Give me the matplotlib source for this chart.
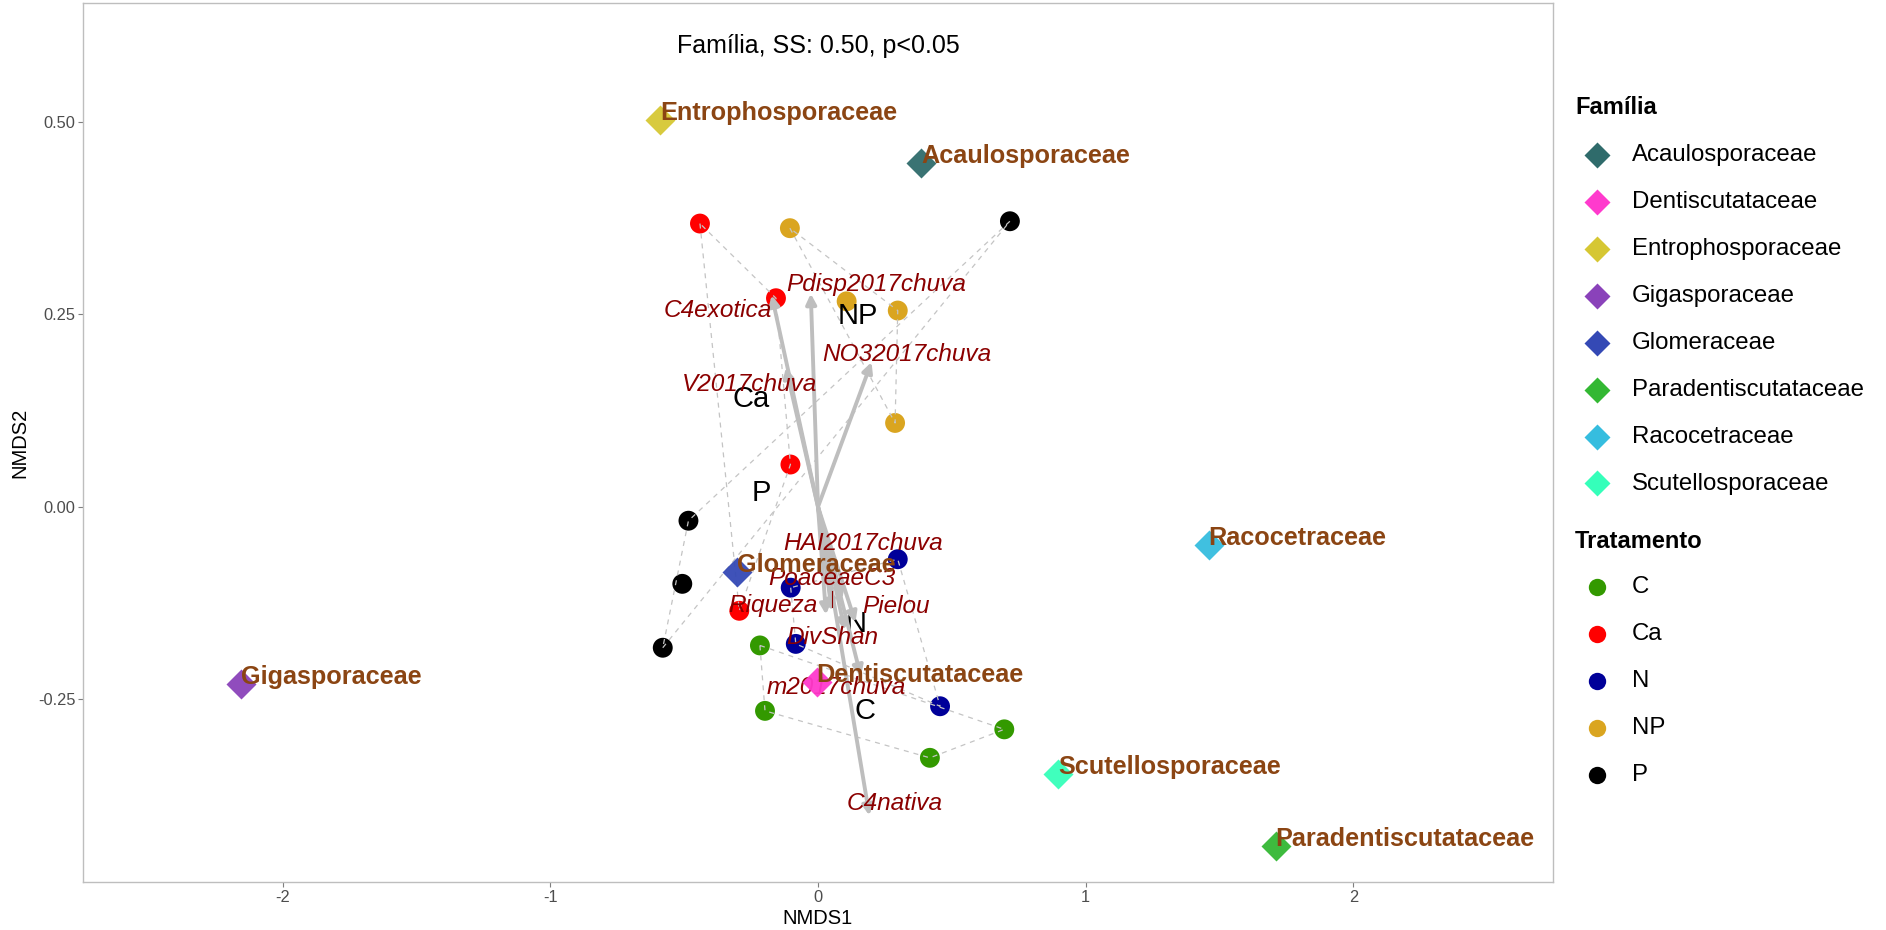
import numpy as np
import matplotlib
matplotlib.use("Agg")
import matplotlib.pyplot as plt
from matplotlib.lines import Line2D

plt.rcParams["font.family"] = ["Liberation Sans", "DejaVu Sans"]

# ---- site scores (NMDS1, NMDS2) by treatment ----
treatments = ["C", "Ca", "N", "NP", "P"]
treat_colors = ["#339900", "#FF0000", "#000099", "#DAA520", "#000000"]
C_x = [-0.217, -0.198, 0.418, 0.696]
C_y = [-0.180, -0.265, -0.326, -0.289]
Ca_x = [-0.441, -0.157, -0.103, -0.294]
Ca_y = [0.368, 0.271, 0.055, -0.135]
N_x = [0.298, -0.102, -0.083, 0.456]
N_y = [-0.068, -0.105, -0.178, -0.259]
NP_x = [-0.105, 0.107, 0.298, 0.288]
NP_y = [0.362, 0.267, 0.255, 0.109]
P_x = [0.717, -0.484, -0.507, -0.580]
P_y = [0.371, -0.018, -0.100, -0.183]

# ---- family scores ----
families = ["Acaulosporaceae", "Dentiscutataceae", "Entrophosporaceae",
            "Gigasporaceae", "Glomeraceae", "Paradentiscutataceae",
            "Racocetraceae", "Scutellosporaceae"]
family_colors = ["#2F6B6B", "#FF3ACD", "#D6C733", "#8A42BA", "#3449B5",
                 "#33B833", "#35BDDF", "#35FFBA"]
family_x = [0.386, -0.005, -0.589, -2.157, -0.304, 1.710, 1.459, 0.898]
family_y = [0.447, -0.228, 0.503, -0.230, -0.085, -0.441, -0.050, -0.347]

# ---- fitted environmental vectors ----
vectors = ["C4exotica", "Pdisp2017chuva", "V2017chuva", "NO32017chuva",
           "HAI2017chuva", "PoaceaeC3", "Riqueza", "Pielou", "DivShan",
           "m2017chuva", "C4nativa"]
vec_x = [-0.173, -0.027, -0.120, 0.200, 0.090, 0.051, 0.030, 0.140, 0.100, 0.160, 0.192]
vec_y = [0.275, 0.277, 0.181, 0.188, -0.120, -0.135, -0.140, -0.150, -0.160, -0.220, -0.401]

# repelled label anchors for the vectors (text baseline, centred)
vlab_x = [-0.375, 0.217, -0.255, 0.330, 0.168, 0.050, -0.169, 0.292, 0.053, 0.067, 0.288]
vlab_y = [0.246, 0.281, 0.151, 0.190, -0.056, -0.101, -0.137, -0.138, -0.178, -0.243, -0.394]

title = "Família, SS: 0.50, p<0.05"

groups = {
    "C": (C_x, C_y), "Ca": (Ca_x, Ca_y), "N": (N_x, N_y),
    "NP": (NP_x, NP_y), "P": (P_x, P_y),
}


def convex_hull(xs, ys):
    pts = sorted(set(zip(xs, ys)))

    def cross(o, a, b):
        return (a[0] - o[0]) * (b[1] - o[1]) - (a[1] - o[1]) * (b[0] - o[0])

    lower, upper = [], []
    for p in pts:
        while len(lower) >= 2 and cross(lower[-2], lower[-1], p) <= 0:
            lower.pop()
        lower.append(p)
    for p in reversed(pts):
        while len(upper) >= 2 and cross(upper[-2], upper[-1], p) <= 0:
            upper.pop()
        upper.append(p)
    return lower[:-1] + upper[:-1]


W, H = 1886, 930
fig = plt.figure(figsize=(W / 100, H / 100), dpi=100)
fig.patch.set_facecolor("white")
ax = fig.add_axes([83 / W, 1 - 882 / H, (1553 - 83) / W, (882 - 3) / H])
ax.set_xlim(-2.746, 2.746)
ax.set_ylim(-0.4873, 0.6545)

# sample points
for name, col in zip(treatments, treat_colors):
    gx, gy = groups[name]
    ax.scatter(gx, gy, s=205, color=col, edgecolors="none", zorder=2)

# dashed hulls around each treatment
for name in treatments:
    gx, gy = groups[name]
    hull = convex_hull(gx, gy)
    hx = [p[0] for p in hull] + [hull[0][0]]
    hy = [p[1] for p in hull] + [hull[0][1]]
    ax.plot(hx, hy, color="#C4C4C4", lw=0.9, ls=(0, (4, 4)), zorder=3)

# treatment labels at group centroids
for name in treatments:
    gx, gy = groups[name]
    ax.text(np.mean(gx), np.mean(gy), name, fontsize=21, color="black",
            ha="center", va="center", zorder=4)

# vectors from the origin
for vx, vy in zip(vec_x, vec_y):
    ax.annotate("", xy=(vx, vy), xytext=(0, 0),
                arrowprops=dict(arrowstyle="-|>,head_length=0.6,head_width=0.3",
                                color="#BEBEBE", lw=2.8, shrinkA=0, shrinkB=0),
                zorder=5)

# vector labels
for name, lx, ly, vx, vy in zip(vectors, vlab_x, vlab_y, vec_x, vec_y):
    ax.text(lx, ly, name, fontsize=17.6, style="italic", color="#8B0000",
            ha="center", va="baseline", zorder=6)
# leader line for the displaced PoaceaeC3 label
i = vectors.index("PoaceaeC3")
ax.plot([vec_x[i], vec_x[i]], [vlab_y[i] - 0.008, vec_y[i] + 0.005],
        color="#8B0000", lw=0.8, zorder=6)

# family scores and labels
for name, col, fx_, fy_ in zip(families, family_colors, family_x, family_y):
    ax.plot(fx_, fy_, marker="D", ms=14.8, color=col, mec="none", ls="none",
            alpha=0.95, zorder=7)
    ax.text(fx_, fy_, name, fontsize=18.2, fontweight="bold", color="#8B4513",
            ha="left", va="baseline", zorder=8)

ax.text(0, 0.599, title, fontsize=18, ha="center", va="center", color="black")

# axes styling
for sp in ax.spines.values():
    sp.set_color("#BEBEBE")
    sp.set_linewidth(1.0)
ax.set_xticks([-2, -1, 0, 1, 2])
ax.set_xticklabels(["-2", "-1", "0", "1", "2"])
ax.set_yticks([-0.25, 0.0, 0.25, 0.50])
ax.set_yticklabels(["-0.25", "0.00", "0.25", "0.50"])
ax.tick_params(axis="both", length=3.5, width=0.8, color="#7F7F7F",
               labelsize=11.8, labelcolor="#4D4D4D", pad=2)
ax.set_xlabel("NMDS1", fontsize=14.5, labelpad=3)
ax.set_ylabel("NMDS2", fontsize=14.5, labelpad=6)


# legends drawn in figure pixel space
def fy(px):
    return 1 - px / H


def fx(px):
    return px / W


fig.text(fx(1575), fy(107), "Família", fontsize=17, fontweight="bold",
         ha="left", va="center")
y0, dy = 155.2, 46.9
for k, (name, col) in enumerate(zip(families, family_colors)):
    yy = y0 + k * dy
    fig.add_artist(Line2D([fx(1597)], [fy(yy)], marker="D", ms=13.2, color=col,
                          mec="none", ls="none", transform=fig.transFigure))
    fig.text(fx(1632), fy(yy), name, fontsize=17.3, ha="left", va="center")

fig.text(fx(1575), fy(541), "Tratamento", fontsize=17, fontweight="bold",
         ha="left", va="center")
y1 = 587.0
for k, (name, col) in enumerate(zip(treatments, treat_colors)):
    yy = y1 + k * dy
    fig.add_artist(Line2D([fx(1597)], [fy(yy)], marker="o", ms=12.5, color=col,
                          mec="none", ls="none", transform=fig.transFigure))
    fig.text(fx(1632), fy(yy), name, fontsize=17.3, ha="left", va="center")

fig.savefig("out.png", dpi=100, facecolor="white")
